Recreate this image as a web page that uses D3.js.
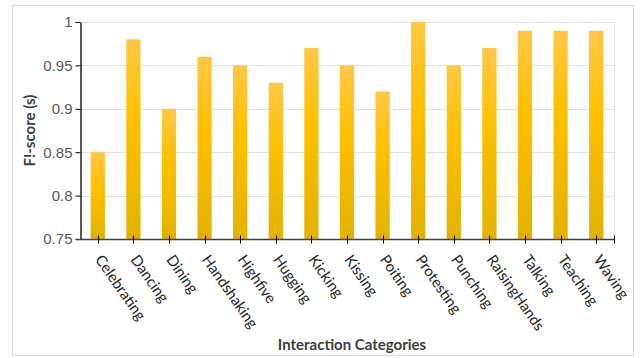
<!DOCTYPE html>
<html>
<head>
<meta charset="utf-8">
<script src="https://cdn.jsdelivr.net/npm/d3@7"></script>
<style>
  body { margin: 0; background: #fff; }
</style>
</head>
<body>
<div id="chart"></div>
<script>
const categories = ["Celebrating", "Dancing", "Dining", "Handshaking", "Highfive", "Hugging", "Kicking",
  "Kissing", "Poiting", "Protesting", "Punching", "RaisingHands", "Talking", "Teaching", "Waving"];
const scores = [0.85, 0.98, 0.90, 0.96, 0.95, 0.93, 0.97, 0.95, 0.92, 1.00, 0.95, 0.97, 0.99, 0.99, 0.99];
const yTicks = [0.75, 0.8, 0.85, 0.9, 0.95, 1];

const width = 641, height = 358;
const margin = {top: 22, right: 27, bottom: 119, left: 80};

const svg = d3.select("#chart").append("svg")
    .attr("width", width)
    .attr("height", height)
    .attr("font-family", "Lato, 'Open Sans', sans-serif");

// outer chart frame
svg.append("rect")
    .attr("x", 12.5).attr("y", 5.5)
    .attr("width", 621).attr("height", 350)
    .attr("fill", "none")
    .attr("stroke", "#d9d9d9");

const grad = svg.append("defs").append("linearGradient")
    .attr("id", "barGrad")
    .attr("x1", 0).attr("y1", 0).attr("x2", 0).attr("y2", 1);
grad.append("stop").attr("offset", "0%").attr("stop-color", "#ffc746");
grad.append("stop").attr("offset", "40%").attr("stop-color", "#ffc000");
grad.append("stop").attr("offset", "100%").attr("stop-color", "#e3b200");

const x = d3.scaleBand()
    .domain(categories)
    .range([margin.left, width - margin.right])
    .paddingInner(0.6)
    .paddingOuter(0.3);

const y = d3.scaleLinear()
    .domain([0.75, 1])
    .range([height - margin.bottom, margin.top]);

// gridlines
svg.append("g")
  .selectAll("line")
  .data(yTicks.slice(1))
  .join("line")
    .attr("x1", margin.left)
    .attr("x2", width - margin.right)
    .attr("y1", d => Math.round(y(d)) + 0.5)
    .attr("y2", d => Math.round(y(d)) + 0.5)
    .attr("stroke", "#e3e3e3");

svg.append("line")
    .attr("x1", width - margin.right + 0.5)
    .attr("x2", width - margin.right + 0.5)
    .attr("y1", margin.top)
    .attr("y2", height - margin.bottom)
    .attr("stroke", "#e3e3e3");

// bars
svg.append("g")
  .selectAll("rect")
  .data(categories)
  .join("rect")
    .attr("x", d => x(d))
    .attr("y", (d, i) => y(scores[i]))
    .attr("width", x.bandwidth())
    .attr("height", (d, i) => y(0.75) - y(scores[i]))
    .attr("fill", "url(#barGrad)");

// y axis
const yAxis = svg.append("g")
    .attr("transform", `translate(${margin.left + 0.5},0)`)
    .call(d3.axisLeft(y).tickValues(yTicks).tickFormat(d => d3.format("")(d)).tickSize(5).tickSizeOuter(0));
yAxis.select(".domain").attr("stroke", "#000").attr("stroke-width", 1.3);
yAxis.selectAll(".tick line").attr("stroke", "#000");
yAxis.selectAll(".tick text")
    .attr("x", -8)
    .attr("fill", "#595959")
    .attr("font-size", 15);

// x axis with ticks crossing the line
const xAxis = svg.append("g")
    .attr("transform", `translate(0,${Math.round(y(0.75)) + 0.5})`);
xAxis.append("line")
    .attr("x1", margin.left - 4)
    .attr("x2", width - margin.right)
    .attr("stroke", "#404040")
    .attr("stroke-width", 1.5);
xAxis.selectAll(".tk")
  .data(categories)
  .join("line")
    .attr("class", "tk")
    .attr("x1", d => Math.round(x(d) + x.bandwidth() / 2) + 0.5)
    .attr("x2", d => Math.round(x(d) + x.bandwidth() / 2) + 0.5)
    .attr("y1", -4).attr("y2", 4)
    .attr("stroke", "#000");
xAxis.append("line")
    .attr("x1", width - margin.right + 0.5).attr("x2", width - margin.right + 0.5)
    .attr("y1", -4).attr("y2", 4)
    .attr("stroke", "#000");
xAxis.selectAll("text")
  .data(categories)
  .join("text")
    .attr("transform", d => `translate(${x(d) + x.bandwidth() / 2 + 1},17) rotate(55)`)
    .attr("dy", "0.35em")
    .attr("text-anchor", "start")
    .attr("fill", "#262626")
    .attr("font-size", 15)
    .text(d => d);

// axis titles
svg.append("text")
    .attr("transform", `translate(35,${(margin.top + height - margin.bottom) / 2}) rotate(-90)`)
    .attr("text-anchor", "middle")
    .attr("font-weight", "bold")
    .attr("font-size", 15)
    .attr("fill", "#404040")
    .text("F!-score (s)");

svg.append("text")
    .attr("x", (margin.left + width - margin.right) / 2 + 5)
    .attr("y", 350)
    .attr("text-anchor", "middle")
    .attr("font-weight", "bold")
    .attr("font-size", 15)
    .attr("fill", "#404040")
    .text("Interaction Categories");
</script>
</body>
</html>
